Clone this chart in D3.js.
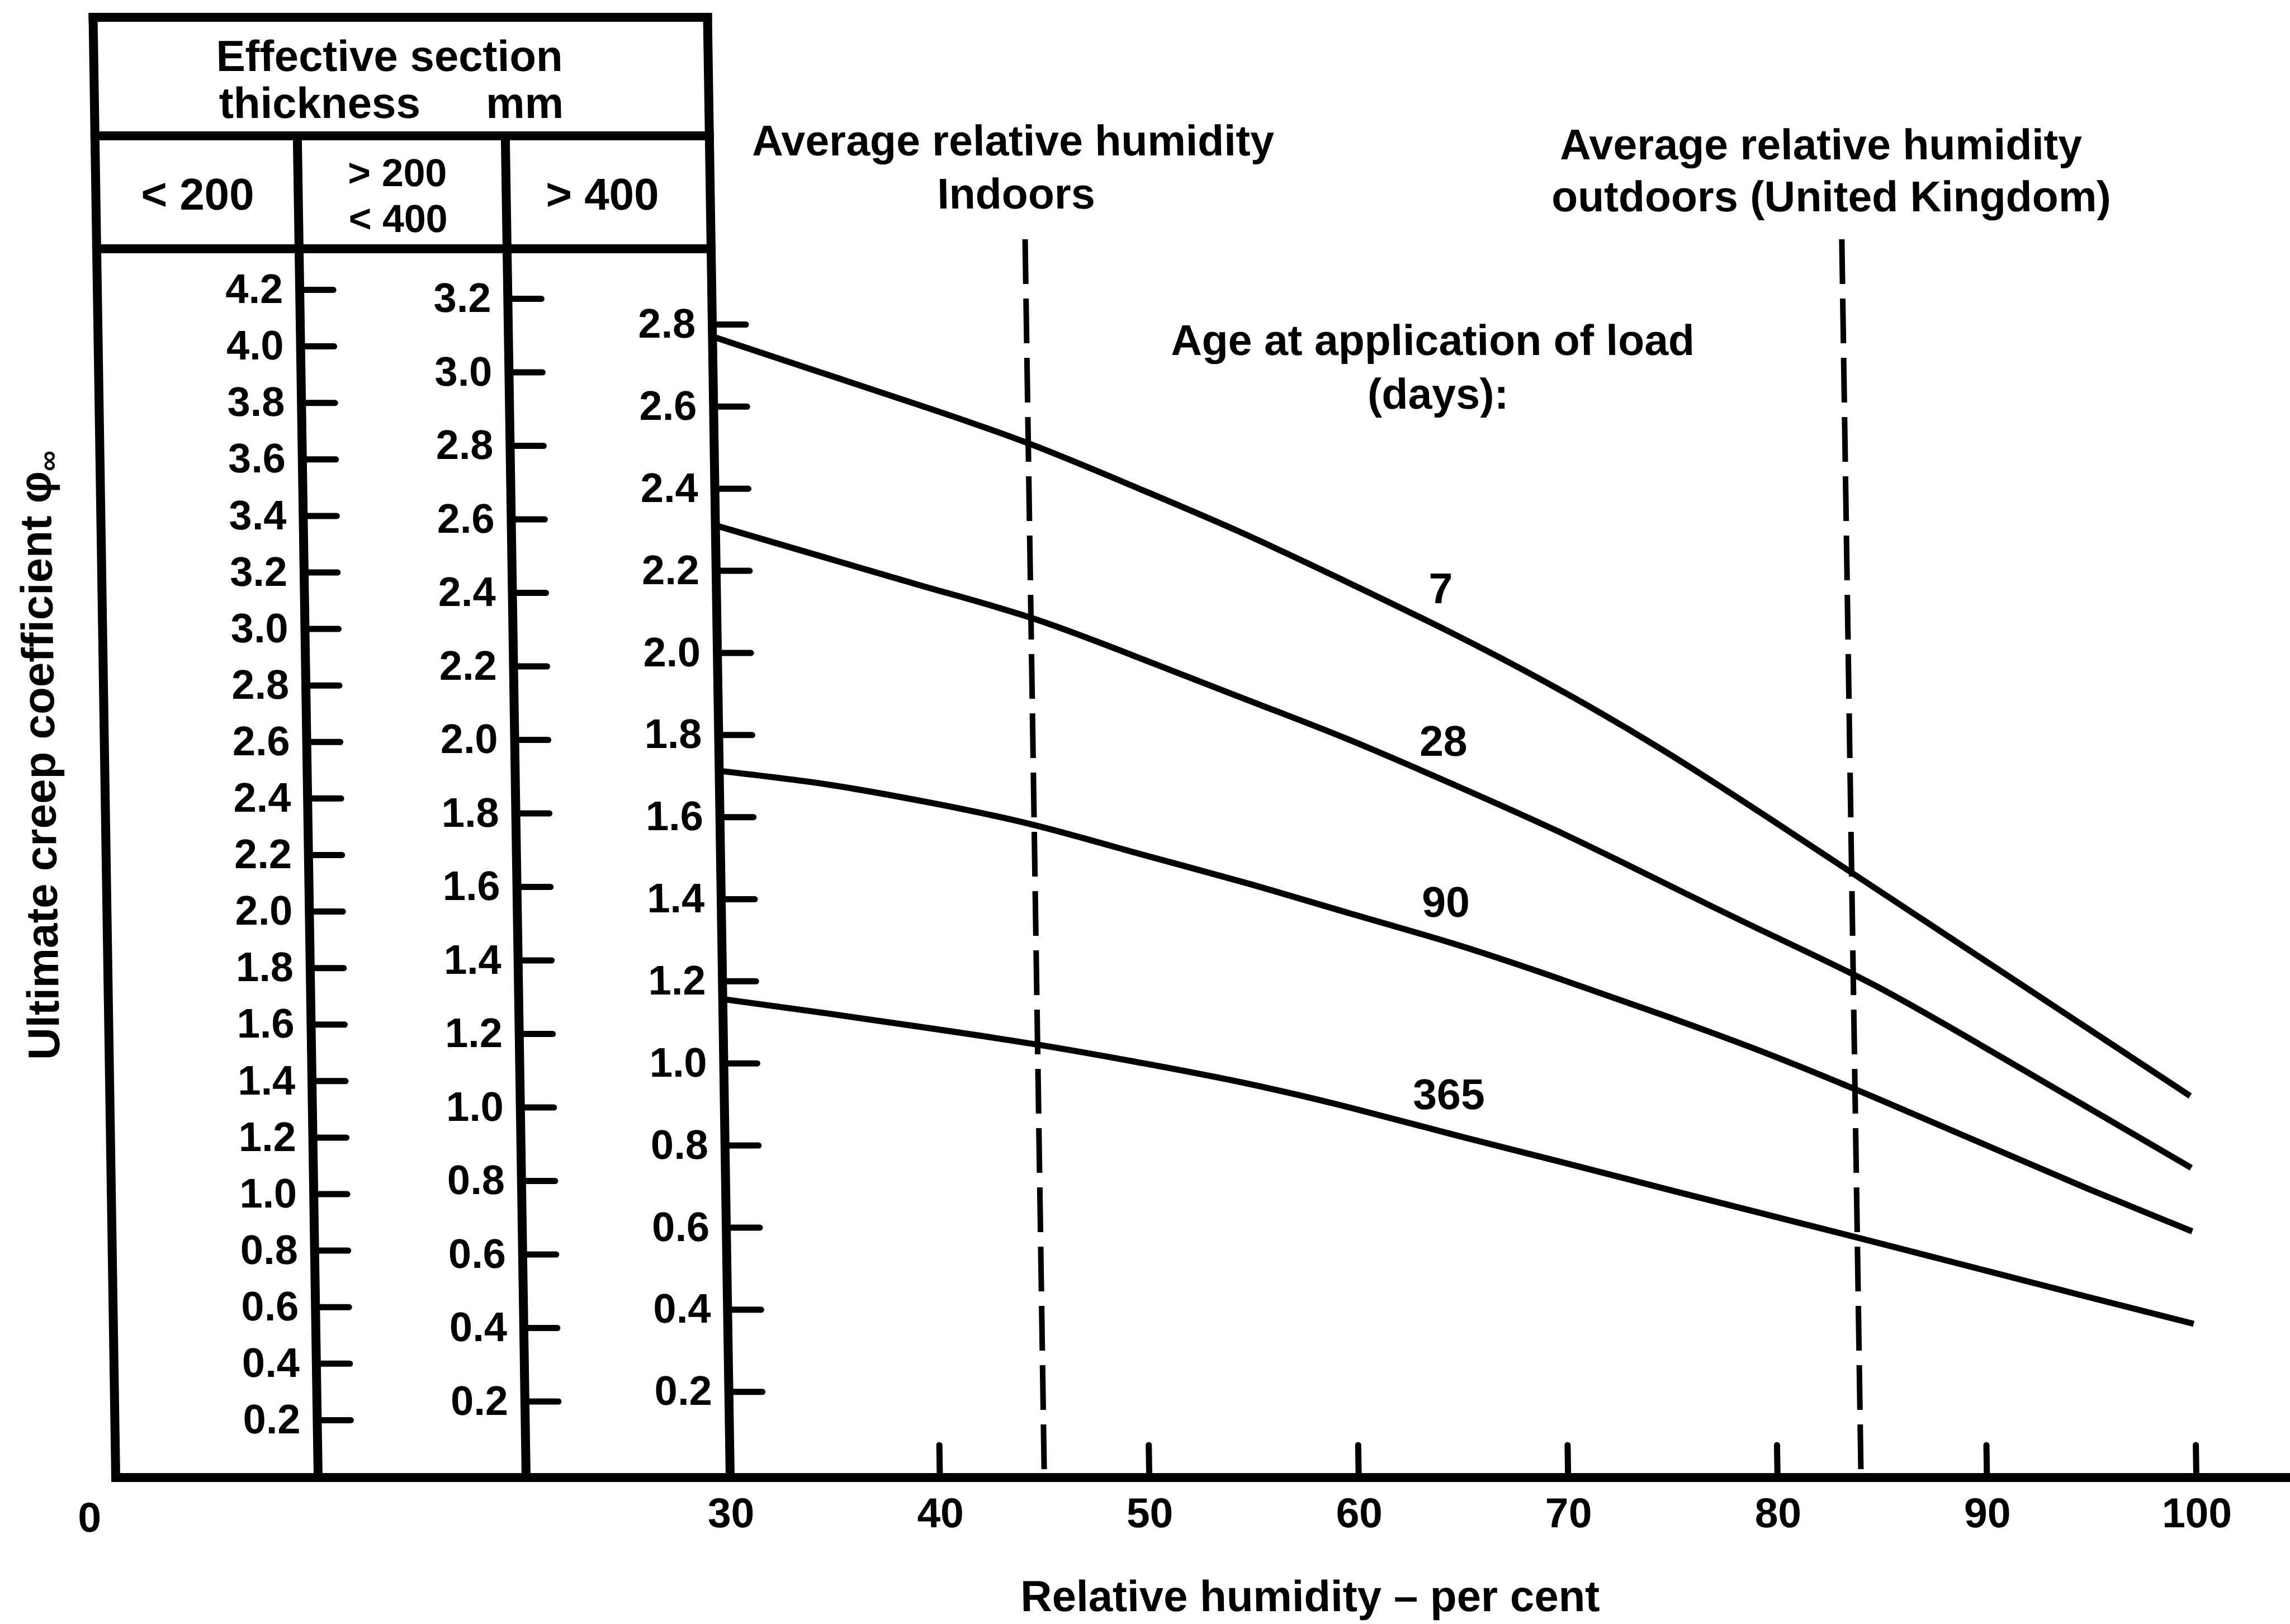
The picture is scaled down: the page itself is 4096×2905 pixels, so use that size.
<!DOCTYPE html>
<html>
<head>
<meta charset="utf-8">
<script src="https://cdn.jsdelivr.net/npm/d3@7"></script>
<style>
  body { margin: 0; background: #fff; }
  svg text { font-family: "Liberation Sans", Arial, sans-serif; font-weight: bold; fill: #000; }
</style>
</head>
<body>
<div id="chart"></div>
<script>
(function() {

    // relative humidity (per cent) and ultimate creep coefficient, > 400 mm section
    var humidity = [30, 35, 40, 45, 50, 55, 60, 65, 70, 75, 80, 85, 90, 95, 100];
    var creep7   = [2.77, 2.685, 2.60, 2.51, 2.405, 2.295, 2.175, 2.05, 1.915, 1.765, 1.60, 1.43, 1.26, 1.09, 0.92];
    var creep28  = [2.31, 2.235, 2.16, 2.085, 1.99, 1.89, 1.79, 1.68, 1.565, 1.44, 1.315, 1.19, 1.045, 0.895, 0.745];
    var creep90  = [1.712, 1.68, 1.635, 1.58, 1.51, 1.44, 1.365, 1.29, 1.205, 1.115, 1.02, 0.915, 0.805, 0.695, 0.59];
    var creep365 = [1.156, 1.121, 1.084, 1.045, 1.00, 0.95, 0.89, 0.823, 0.758, 0.692, 0.627, 0.562, 0.496, 0.43, 0.365];
    var ageLabels = ["7", "28", "90", "365"];

    // the three thickness scales of the nomogram
    var thicknessLabels = ["< 200", "> 200|< 400", "> 400"];
    var ticksThin  = [0.2, 0.4, 0.6, 0.8, 1.0, 1.2, 1.4, 1.6, 1.8, 2.0, 2.2, 2.4, 2.6, 2.8, 3.0, 3.2, 3.4, 3.6, 3.8, 4.0, 4.2];
    var ticksMid   = [0.2, 0.4, 0.6, 0.8, 1.0, 1.2, 1.4, 1.6, 1.8, 2.0, 2.2, 2.4, 2.6, 2.8, 3.0, 3.2];
    var ticksThick = [0.2, 0.4, 0.6, 0.8, 1.0, 1.2, 1.4, 1.6, 1.8, 2.0, 2.2, 2.4, 2.6, 2.8];
    var humidityTicks = [30, 40, 50, 60, 70, 80, 90, 100];
    var indoorRH = 45, outdoorRH = 84;

    var width = 4096, height = 2905;
    var baseY = 2643,
        left = 207, div1 = 569, div2 = 941, axisX = 1306,
        top = 31, row1 = 243, row2 = 445;
    var skew = Math.atan(0.0155) * 180 / Math.PI;   // the scan leans a little

    var svg = d3.select("#chart")
        .append("svg")
        .attr("width", width)
        .attr("height", height);

    svg.append("rect").attr("width", width).attr("height", height).attr("fill", "#fff");

    var g = svg.append("g")
        .attr("transform", "translate(0," + baseY + ") skewX(" + skew + ") translate(0," + (-baseY) + ")");

    var x = d3.scaleLinear().domain([30, 100]).range([axisX, 3928]);
    var y = d3.scaleLinear().domain([0, 2.8]).range([2636, 580]);
    var yMid = d3.scaleLinear().domain([0, 3.2]).range([2638, 534]);
    var yThin = d3.scaleLinear().domain([0, 4.2]).range([2641, 518]);

    /*
        Frame of the table + axis lines
    */
    var frame = [
        [left, top, axisX, top],
        [left, row1, axisX, row1],
        [left, row2, axisX, row2],
        [left, top, left, baseY],
        [div1, row1, div1, baseY],
        [div2, row1, div2, baseY],
        [axisX, top, axisX, baseY],
        [left, baseY, 4096, baseY]
    ];
    g.selectAll(".frame")
        .data(frame)
        .enter().append("line")
        .attr("class", "frame")
        .attr("x1", function(d) { return d[0]; })
        .attr("y1", function(d) { return d[1]; })
        .attr("x2", function(d) { return d[2]; })
        .attr("y2", function(d) { return d[3]; })
        .attr("stroke", "#000")
        .attr("stroke-width", 16)
        .attr("stroke-linecap", "square");

    // header
    g.append("text").attr("x", 736).attr("y", 127).attr("text-anchor", "middle")
        .attr("font-size", 78).text("Effective section");
    g.append("text").attr("x", 430).attr("y", 211).attr("font-size", 78).text("thickness");
    g.append("text").attr("x", 1046).attr("y", 211).attr("text-anchor", "end")
        .attr("font-size", 78).text("mm");

    var colCentre = [389, 747, 1113];
    thicknessLabels.forEach(function(lab, i) {
        var lines = lab.split("|");
        var single = lines.length === 1;
        lines.forEach(function(l, j) {
            g.append("text")
                .attr("x", colCentre[i])
                .attr("y", (single ? 375 : 333) + j * 82)
                .attr("text-anchor", "middle")
                .attr("font-size", single ? 80 : 70)
                .text(l);
        });
    });

    /*
        The three creep coefficient scales: ticks right, labels left
    */
    function scaleAxis(scale, ticks, xPos) {
        var ax = g.append("g")
            .attr("transform", "translate(" + xPos + ",0)")
            .call(d3.axisLeft(scale).tickValues(ticks).tickFormat(d3.format(".1f"))
                .tickSize(-60).tickPadding(30));
        ax.select(".domain").remove();
        ax.attr("font-size", 74);
        ax.selectAll(".tick line").attr("stroke-width", 11).attr("stroke-linecap", "round");
    }
    scaleAxis(yThin, ticksThin, div1);
    scaleAxis(yMid, ticksMid, div2);
    scaleAxis(y, ticksThick, axisX);

    // humidity axis
    var xAxis = g.append("g")
        .attr("transform", "translate(0," + baseY + ")")
        .call(d3.axisBottom(x).tickValues(humidityTicks).tickSize(-58).tickPadding(36));
    xAxis.select(".domain").remove();
    xAxis.attr("font-size", 75);
    xAxis.selectAll(".tick line").attr("stroke-width", 11).attr("stroke-linecap", "round");

    g.append("text").attr("x", 159).attr("y", 2740).attr("text-anchor", "middle")
        .attr("font-size", 75).text("0");

    /*
        Average humidity markers
    */
    g.selectAll(".rh")
        .data([indoorRH, outdoorRH])
        .enter().append("line")
        .attr("class", "rh")
        .attr("x1", function(d) { return x(d); })
        .attr("x2", function(d) { return x(d); })
        .attr("y1", 428)
        .attr("y2", baseY)
        .attr("stroke", "#000")
        .attr("stroke-width", 10)
        .attr("stroke-dasharray", "80,26");

    var notes = [
        [1849, 278, "Average relative humidity"],
        [1853, 373, "Indoors"],
        [3294, 285, "Average relative humidity"],
        [3311, 378, "outdoors (United Kingdom)"],
        [2594, 635, "Age at application of load"],
        [2602, 731, "(days):"]
    ];
    g.selectAll(".note")
        .data(notes)
        .enter().append("text")
        .attr("class", "note")
        .attr("x", function(d) { return d[0]; })
        .attr("y", function(d) { return d[1]; })
        .attr("text-anchor", "middle")
        .attr("font-size", 77)
        .text(function(d) { return d[2]; });

    /*
        Creep curves
    */
    var series = [creep7, creep28, creep90, creep365];
    var line = d3.line()
        .x(function(d, i) { return x(humidity[i]); })
        .y(function(d) { return y(d); })
        .curve(d3.curveNatural);

    g.selectAll(".curve")
        .data(series)
        .enter().append("path")
        .attr("class", "curve")
        .attr("d", line)
        .attr("fill", "none")
        .attr("stroke", "#000")
        .attr("stroke-width", 11);

    function valueAt(vals, rh) {
        var i = d3.bisectLeft(humidity, rh);
        var t = (rh - humidity[i - 1]) / (humidity[i] - humidity[i - 1]);
        return vals[i - 1] + t * (vals[i] - vals[i - 1]);
    }
    var labelRH = 64.6;
    g.selectAll(".age")
        .data(series)
        .enter().append("text")
        .attr("class", "age")
        .attr("x", x(labelRH))
        .attr("y", function(d) { return y(valueAt(d, labelRH)) - 44; })
        .attr("text-anchor", "middle")
        .attr("font-size", 77)
        .text(function(d, i) { return ageLabels[i]; });

    // axis titles
    var yTitle = g.append("text")
        .attr("transform", "translate(118,1896) rotate(-90)")
        .attr("font-size", 80);
    yTitle.append("tspan").text("Ultimate creep coefficient ");
    yTitle.append("tspan").text("\u03c6");
    yTitle.append("tspan").attr("font-size", 52).attr("dy", 14).text("\u221e");

    g.append("text").attr("x", 2340).attr("y", 2882).attr("text-anchor", "middle")
        .attr("font-size", 78).text("Relative humidity \u2013 per cent");

})();
</script>
</body>
</html>
